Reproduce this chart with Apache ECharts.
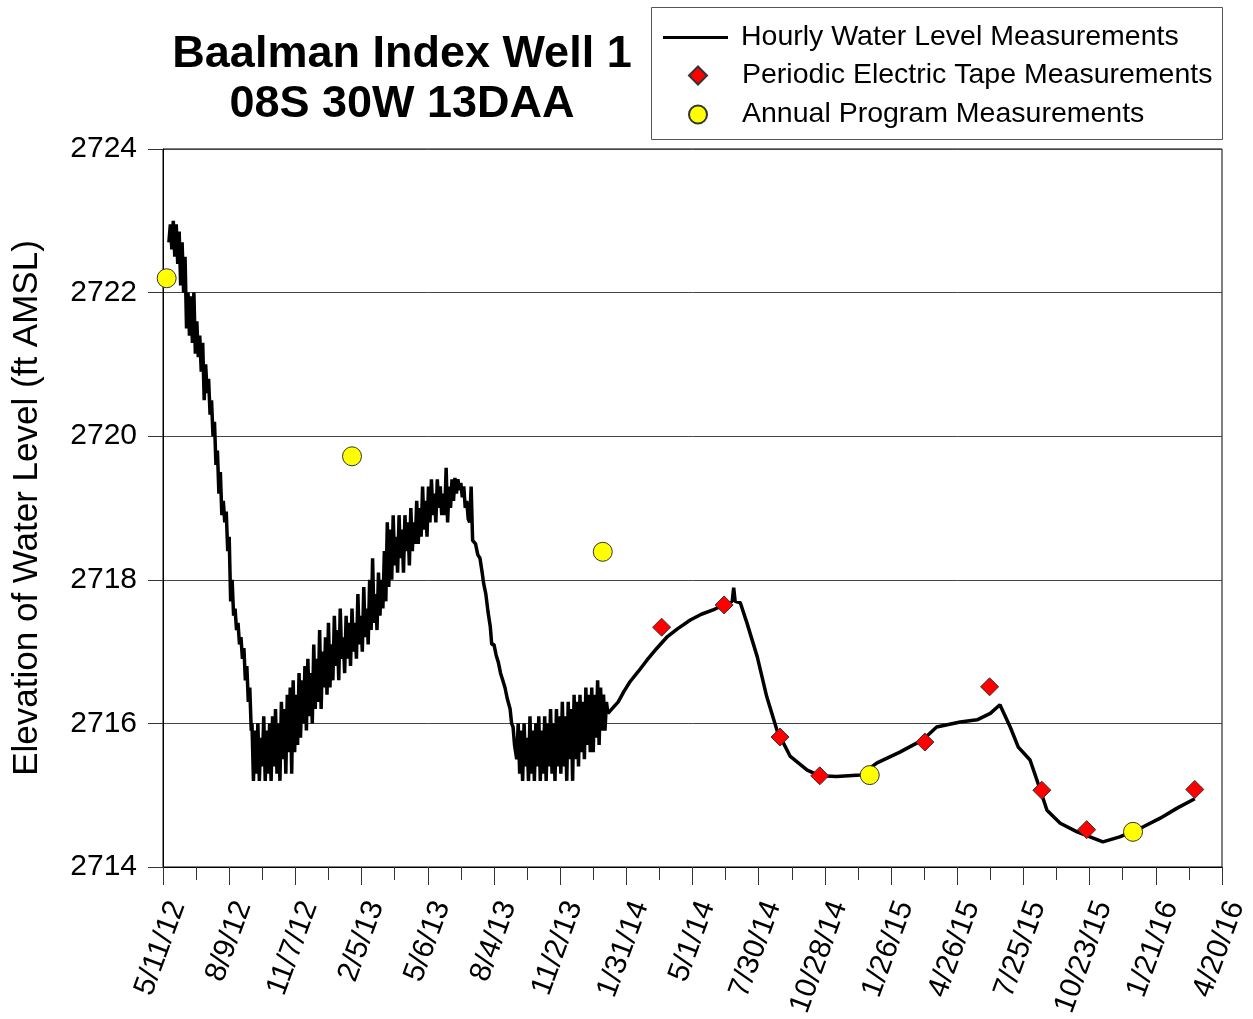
<!DOCTYPE html>
<html>
<head>
<meta charset="utf-8">
<script src="https://cdn.jsdelivr.net/npm/echarts@6/dist/echarts.min.js"></script>
<style>
  html, body { margin: 0; padding: 0; background: #fff; }
  #chart { width: 1253px; height: 1019px; }
</style>
</head>
<body>
<div id="chart"></div>
<script>
// days counted from 5/11/12, water level in ft AMSL
const startDate = Date.UTC(2012, 4, 11);

const hourlyLevels = [
  [8, 2722.7], [10, 2722.95], [12, 2722.6], [14, 2723.0], [16, 2722.5], [18, 2722.95],
  [20, 2722.4], [22, 2722.85], [24, 2722.1], [26, 2722.7], [28, 2722.0], [30, 2722.5],
  [32, 2721.5], [34, 2722.0], [36, 2721.4], [38, 2721.95], [40, 2721.3], [42, 2722.0],
  [44, 2721.15], [46, 2721.6], [48, 2721.1], [50, 2721.4], [52, 2720.9], [54, 2721.3],
  [56, 2720.5], [58, 2721.0], [60, 2720.6], [62, 2720.8], [64, 2720.3], [66, 2720.5],
  [68, 2720.0], [70, 2720.2], [72, 2719.6], [74, 2719.8], [76, 2719.2], [78, 2719.5],
  [80, 2718.9], [82, 2719.1], [84, 2718.8], [86, 2718.95], [88, 2718.4], [90, 2718.6],
  [92, 2717.7], [94, 2718.0], [96, 2717.5], [98, 2717.6], [100, 2717.3], [102, 2717.4],
  [104, 2717.1], [106, 2717.2], [108, 2716.9], [110, 2717.05], [112, 2716.6], [114, 2716.8],
  [116, 2716.3], [118, 2716.5], [120, 2715.9],
  [121, 2716.0], [123, 2715.2], [125, 2715.9], [127, 2715.3], [129, 2716.0], [131, 2715.2],
  [133, 2715.8], [135, 2715.4], [137, 2716.1], [139, 2715.2], [141, 2715.9], [143, 2715.3],
  [145, 2716.0], [147, 2715.2], [149, 2716.1], [151, 2715.4], [153, 2716.2], [155, 2715.3],
  [157, 2716.0], [159, 2715.2], [161, 2716.3], [163, 2715.5], [165, 2716.2], [167, 2715.3],
  [169, 2716.4], [171, 2715.6], [173, 2716.5], [175, 2715.3], [177, 2716.6], [179, 2715.6],
  [181, 2716.4], [183, 2715.7], [185, 2716.7], [187, 2715.8], [189, 2716.6], [191, 2716.0],
  [193, 2716.8], [195, 2715.9], [197, 2716.9], [199, 2716.1], [201, 2716.7], [203, 2716.0],
  [205, 2717.1], [207, 2716.2], [209, 2716.9], [211, 2716.3], [213, 2717.3], [215, 2716.2],
  [217, 2717.0], [219, 2716.5], [221, 2717.2], [223, 2716.4], [225, 2717.4], [227, 2716.5],
  [229, 2717.1], [231, 2716.6], [233, 2717.5], [235, 2716.8], [237, 2717.3], [239, 2716.6],
  [241, 2717.6], [243, 2716.9], [245, 2717.2], [247, 2716.7], [249, 2717.5], [251, 2716.9],
  [253, 2717.4], [255, 2716.8], [257, 2717.6], [259, 2717.0], [261, 2717.4], [263, 2716.9],
  [265, 2717.8], [267, 2717.1], [269, 2717.5], [271, 2717.0], [273, 2717.9], [275, 2717.2],
  [277, 2717.6], [279, 2717.1], [281, 2718.0], [283, 2717.3], [285, 2718.3], [287, 2717.4],
  [289, 2717.8], [291, 2717.3], [293, 2718.1], [295, 2717.5], [297, 2718.0], [299, 2717.6],
  [301, 2718.4], [303, 2717.7], [305, 2718.8], [307, 2717.9], [309, 2718.7], [311, 2718.0],
  [313, 2718.9], [315, 2718.2], [317, 2718.6], [319, 2718.1], [321, 2718.9], [323, 2718.3],
  [325, 2718.7], [327, 2718.1], [329, 2718.9], [331, 2718.4], [333, 2718.8], [335, 2718.2],
  [337, 2719.0], [339, 2718.4], [341, 2718.8], [343, 2718.5], [345, 2719.1], [347, 2718.5],
  [349, 2719.0], [351, 2718.6], [353, 2719.3], [355, 2718.7], [357, 2719.1], [359, 2718.6],
  [361, 2719.3], [363, 2718.8], [365, 2719.4], [367, 2718.9], [369, 2719.2], [371, 2718.8],
  [373, 2719.4], [375, 2719.0], [377, 2719.3], [379, 2718.9], [381, 2719.2], [383, 2718.9],
  [385, 2719.56], [387, 2718.8], [389, 2719.3], [391, 2719.0], [393, 2719.4], [395, 2719.1],
  [397, 2719.42], [399, 2719.2], [401, 2719.4], [403, 2719.25], [405, 2719.35], [407, 2719.15],
  [409, 2719.3], [411, 2719.0], [413, 2719.1], [415, 2718.85], [417, 2718.8], [419, 2719.3],
  [421, 2718.55], [425, 2718.5], [428, 2718.35], [431, 2718.3], [434, 2718.1], [436, 2717.95],
  [439, 2717.8], [442, 2717.55], [445, 2717.35], [447, 2717.1], [450, 2717.1], [453, 2716.95],
  [456, 2716.85], [459, 2716.7], [462, 2716.6], [465, 2716.5], [468, 2716.35], [472, 2716.2],
  [474, 2716.0], [476, 2715.95], [478, 2715.7], [481, 2715.5],
  [483, 2716.0], [485, 2715.3], [487, 2715.9], [489, 2715.2], [491, 2716.0], [493, 2715.4],
  [495, 2715.8], [497, 2715.2], [499, 2716.1], [501, 2715.3], [503, 2715.9], [505, 2715.2],
  [507, 2716.0], [509, 2715.4], [511, 2716.1], [513, 2715.2], [515, 2715.9], [517, 2715.3],
  [519, 2716.1], [521, 2715.2], [523, 2716.0], [525, 2715.4], [527, 2716.2], [529, 2715.3],
  [531, 2716.0], [533, 2715.2], [535, 2716.2], [537, 2715.4], [539, 2716.1], [541, 2715.3],
  [543, 2716.3], [545, 2715.4], [547, 2716.1], [549, 2715.2], [551, 2716.3], [553, 2715.5],
  [555, 2716.2], [557, 2715.2], [559, 2716.4], [561, 2715.5], [563, 2716.3], [565, 2715.4],
  [567, 2716.4], [569, 2715.6], [571, 2716.3], [573, 2715.5], [575, 2716.5], [577, 2715.7],
  [579, 2716.4], [581, 2715.6], [583, 2716.5], [585, 2715.6], [587, 2716.4], [589, 2715.8],
  [591, 2716.6], [593, 2715.7], [595, 2716.5], [597, 2715.9], [599, 2716.4], [601, 2715.9],
  [603, 2716.3], [605, 2716.14],
  [612, 2716.22], [619, 2716.3], [627, 2716.45], [635, 2716.58], [646, 2716.72], [658, 2716.88],
  [671, 2717.04], [685, 2717.2], [700, 2717.32], [717, 2717.44], [732, 2717.52], [748, 2717.58],
  [758, 2717.63], [767, 2717.68], [774, 2717.7], [776, 2717.89], [778, 2717.7], [785, 2717.68],
  [794, 2717.4], [808, 2716.93], [821, 2716.37], [835, 2715.9], [853, 2715.54], [876, 2715.35],
  [893, 2715.27], [916, 2715.26], [948, 2715.28], [971, 2715.45], [1002, 2715.6], [1033, 2715.77],
  [1052, 2715.95], [1084, 2716.02], [1107, 2716.05], [1125, 2716.14], [1138, 2716.26], [1152, 2715.95],
  [1163, 2715.67], [1179, 2715.49], [1193, 2715.07], [1202, 2714.79], [1220, 2714.61], [1243, 2714.49],
  [1278, 2714.35], [1301, 2714.42], [1333, 2714.56], [1356, 2714.68], [1379, 2714.82], [1403, 2714.95]
];

const tapeLevels = [
  [678, 2717.34], [763, 2717.65], [839, 2715.81], [893, 2715.27], [1036, 2715.74],
  [1124, 2716.51], [1195, 2715.07], [1256, 2714.52], [1403, 2715.08]
];

const annualLevels = [
  [5, 2722.2], [257, 2719.72], [598, 2718.39], [961, 2715.28], [1319, 2714.49]
];

const seriesNames = [
  'Hourly Water Level Measurements',
  'Periodic Electric Tape Measurements',
  'Annual Program Measurements'
];

const font = '"Liberation Sans", Arial, sans-serif';

function dayLabel(d) {
  const dt = new Date(startDate + d * 86400000);
  return (dt.getUTCMonth() + 1) + '/' + dt.getUTCDate() + '/' + String(dt.getUTCFullYear() % 100).padStart(2, '0');
}

const chart = echarts.init(document.getElementById('chart'));
chart.setOption({
  animation: false,
  backgroundColor: '#fff',
  textStyle: { fontFamily: font, color: '#000' },
  title: {
    text: 'Baalman Index Well 1\n08S 30W 13DAA',
    left: 397,
    top: 25,
    textAlign: 'center',
    textStyle: { fontFamily: font, fontSize: 45, fontWeight: 'bold', color: '#000', lineHeight: 50 }
  },
  graphic: [{
    type: 'rect',
    shape: { x: 651.5, y: 7.5, width: 571, height: 132 },
    style: { fill: 'none', stroke: '#555', lineWidth: 1 }
  }],
  legend: [
    {
      orient: 'vertical',
      left: 663, top: 23,
      padding: 0,
      itemWidth: 65, itemHeight: 3,
      textStyle: { fontFamily: font, fontSize: 28.5, color: '#000', padding: [0, 0, 0, 8] },
      data: [{ name: seriesNames[0], icon: 'rect' }]
    },
    {
      orient: 'vertical',
      left: 688, top: 61,
      padding: 0,
      itemGap: 10,
      itemWidth: 18, itemHeight: 18,
      textStyle: { fontFamily: font, fontSize: 28.5, color: '#000', padding: [0, 0, 0, 30] },
      data: [
        { name: seriesNames[1], icon: 'diamond' },
        { name: seriesNames[2], icon: 'circle' }
      ]
    }
  ],
  grid: {
    left: 163, right: 31, top: 149, bottom: 152,
    outerBoundsMode: 'none',
    show: true, borderColor: '#000', borderWidth: 1
  },
  xAxis: {
    type: 'value',
    min: 0, max: 1440, interval: 90,
    axisLine: { lineStyle: { color: '#000', width: 1 } },
    axisTick: { length: 18, lineStyle: { color: '#333' } },
    minorTick: { show: true, splitNumber: 2, length: 13, lineStyle: { color: '#333' } },
    splitLine: { show: false },
    axisLabel: {
      rotate: 70, margin: 30, fontSize: 30, color: '#000', fontFamily: font,
      verticalAlign: 'top',
      formatter: dayLabel
    }
  },
  yAxis: {
    type: 'value',
    min: 2714, max: 2724, interval: 2,
    name: 'Elevation of Water Level (ft AMSL)',
    nameLocation: 'middle',
    nameGap: 118,
    nameTextStyle: { fontSize: 35, color: '#000', fontFamily: font },
    axisLine: { show: true, lineStyle: { color: '#000', width: 1 } },
    axisTick: { show: true, length: 15, lineStyle: { color: '#333' } },
    splitLine: { lineStyle: { color: '#444', width: 1 } },
    axisLabel: { fontSize: 30, color: '#000', margin: 26, fontFamily: font, formatter: v => String(v) }
  },
  series: [
    {
      name: seriesNames[0],
      type: 'line',
      data: hourlyLevels,
      symbol: 'none',
      lineStyle: { color: '#000', width: 3.5 },
      itemStyle: { color: '#000' },
      z: 2
    },
    {
      name: seriesNames[1],
      type: 'scatter',
      data: tapeLevels,
      symbol: 'diamond',
      symbolSize: 18,
      itemStyle: { color: '#ff0000', borderColor: '#333', borderWidth: 1, opacity: 1 },
      z: 3
    },
    {
      name: seriesNames[2],
      type: 'scatter',
      data: annualLevels,
      symbol: 'circle',
      symbolSize: 19,
      itemStyle: { color: '#ffff00', borderColor: '#333', borderWidth: 1, opacity: 1 },
      z: 4
    }
  ]
});
</script>
</body>
</html>
